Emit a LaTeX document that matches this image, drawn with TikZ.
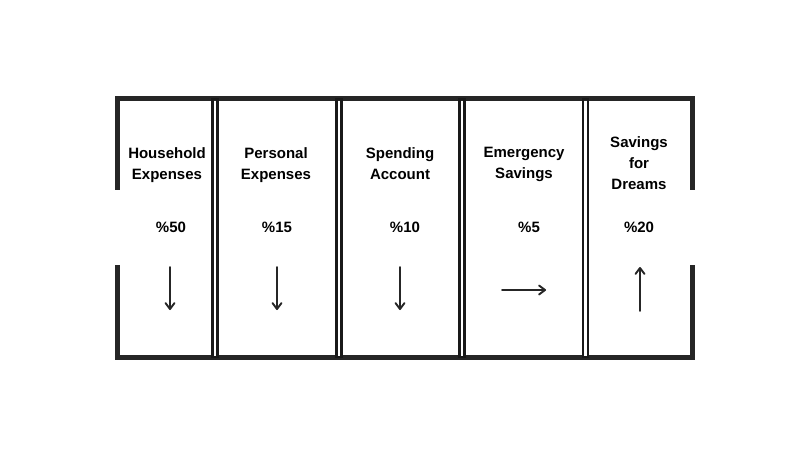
\documentclass[tikz,border=0pt]{standalone}
\usepackage{fontspec}
\setmainfont{Liberation Sans}
\usetikzlibrary{arrows.meta}
\begin{document}
\begin{tikzpicture}[x=1pt,y=-1pt,
  wall/.style={line width=4.2pt,color=black!85,line cap=rect},
  divider/.style={line width=2.3pt,color=black!90},
  title/.style={font=\fontsize{15}{21}\selectfont\bfseries,align=center,text=black},
  pct/.style={font=\fontsize{15}{18}\selectfont\bfseries,text=black},
  flow/.style={line width=1.9pt,color=black!85,line cap=round,-{Straight Barb[length=6pt,width=9pt,round]}}]
\useasboundingbox (0,0) rectangle (810,456);
% outer frame
\draw[wall] (117.5,188) -- (117.5,98.5) -- (692.5,98.5) -- (692.5,188);
\draw[wall] (117.5,267) -- (117.5,357.5) -- (692.5,357.5) -- (692.5,267);
% dividers
\foreach \x in {215,339,462,585.5}{
  \fill[white] (\x-2.5,100.5) rectangle (\x+2.5,355.5);
  \draw[divider] (\x-2.6,99) rectangle (\x+2.6,357);
}
% titles
\node[title] (t1) at (167,165) {Household\\Expenses};
\node[title] (t2) at (276,165) {Personal\\Expenses};
\node[title] (t3) at (400,164) {Spending\\Account};
\node[title] (t4) at (524,164) {Emergency\\Savings};
\node[title] (t5) at (639,163) {Savings\\for\\Dreams};
% percentages
\node[pct] (p1) at (171,227) {\%50};
\node[pct] (p2) at (277,227) {\%15};
\node[pct] (p3) at (405,227) {\%10};
\node[pct] (p4) at (529,227) {\%5};
\node[pct] (p5) at (639,227) {\%20};
% arrows
\coordinate (a1s) at (170,267); \coordinate (a1e) at (170,310);
\coordinate (a2s) at (277,267); \coordinate (a2e) at (277,310);
\coordinate (a3s) at (400,267); \coordinate (a3e) at (400,310);
\coordinate (a4s) at (502,290); \coordinate (a4e) at (546,290);
\coordinate (a5s) at (640,311); \coordinate (a5e) at (640,267);
\draw[flow] (a1s) -- (a1e);
\draw[flow] (a2s) -- (a2e);
\draw[flow] (a3s) -- (a3e);
\draw[flow] (a4s) -- (a4e);
\draw[flow] (a5s) -- (a5e);
\end{tikzpicture}
\end{document}
